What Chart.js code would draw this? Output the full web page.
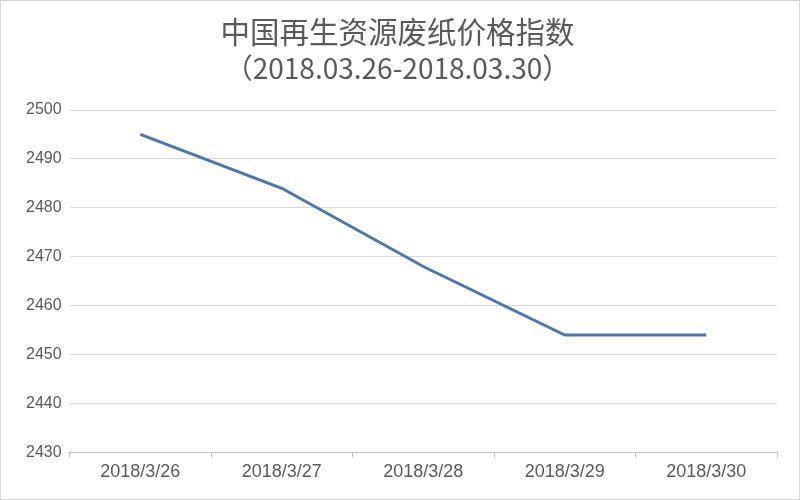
<!DOCTYPE html>
<html>
<head>
<meta charset="utf-8">
<script src="https://cdn.jsdelivr.net/npm/chart.js@4"></script>
<style>
  html, body { margin: 0; padding: 0; background: #fff; }
  #wrap { width: 798px; height: 498px; border: 1px solid #d4d4d4; position: relative; }
  canvas { display: block; }
</style>
</head>
<body>
<div id="wrap"><canvas id="c" width="798" height="498"></canvas></div>
<script>
// 中国再生资源废纸价格指数, 2018.03.26 - 2018.03.30
const dates = ["2018/3/26", "2018/3/27", "2018/3/28", "2018/3/29", "2018/3/30"];
const indexValues = [2495, 2484, 2468, 2454, 2454];
const yTicks = [2430, 2440, 2450, 2460, 2470, 2480, 2490, 2500];

const TEXT = "#595959";

new Chart(document.getElementById("c"), {
    type: "line",
    data: {
        labels: dates,
        datasets: [{
            data: indexValues,
            borderColor: "#4a77b4",
            borderWidth: 3,
            pointRadius: 0,
            tension: 0,
            fill: false
        }]
    },
    options: {
        responsive: false,
        animation: false,
        layout: { padding: { left: 17, right: 22, top: 0, bottom: 12 } },
        plugins: {
            legend: { display: false },
            tooltip: { enabled: false },
            title: {
                display: true,
                text: "中国再生资源废纸价格指数",
                color: TEXT,
                font: { family: "'Noto Sans CJK SC', sans-serif", size: 29.5, weight: "normal" },
                padding: { top: 13, bottom: 2 }
            },
            subtitle: {
                display: true,
                text: "（2018.03.26-2018.03.30）",
                color: TEXT,
                font: { family: "'Noto Sans CJK SC', sans-serif", size: 28, weight: "normal" },
                padding: { top: 0, bottom: 25 }
            }
        },
        scales: {
            x: {
                offset: true,
                border: { display: true, color: "#bfbfbf", width: 1 },
                grid: {
                    offset: true,
                    drawOnChartArea: false,
                    drawTicks: true,
                    tickLength: 5,
                    color: "#bfbfbf"
                },
                ticks: {
                    color: TEXT,
                    font: { family: "'Liberation Sans', sans-serif", size: 18 },
                    padding: 4,
                    maxRotation: 0
                }
            },
            y: {
                min: 2430,
                max: 2500,
                afterBuildTicks: axis => { axis.ticks = yTicks.map(v => ({ value: v })); },
                border: { display: false },
                grid: { color: "#d9d9d9", drawTicks: false, lineWidth: 1 },
                ticks: {
                    color: TEXT,
                    font: { family: "'Liberation Sans', sans-serif", size: 16 },
                    padding: 8,
                    callback: v => String(v)
                }
            }
        }
    }
});
</script>
</body>
</html>
